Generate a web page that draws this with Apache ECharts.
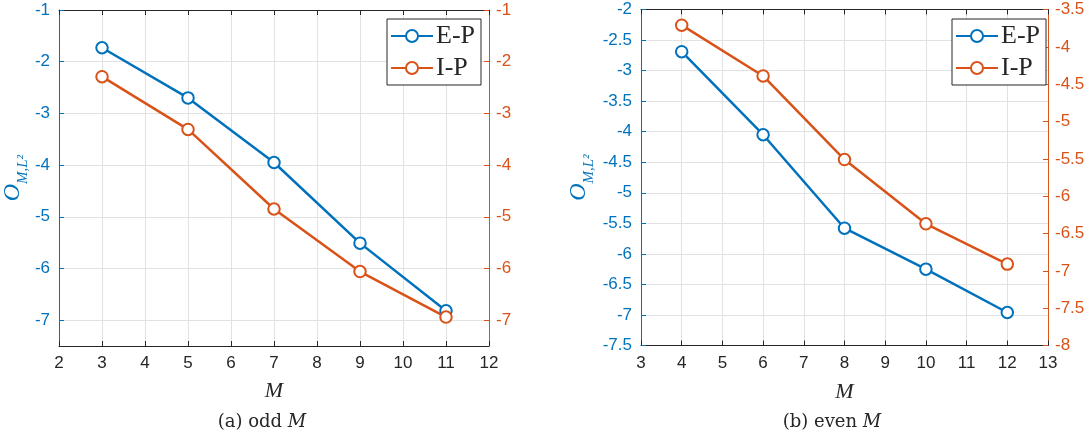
<!DOCTYPE html>
<html>
<head>
<meta charset="utf-8">
<script src="https://cdn.jsdelivr.net/npm/echarts@6/dist/echarts.min.js"></script>
<style>
html,body{margin:0;padding:0;background:#fff;}
#c{width:1088px;height:436px;}
</style>
</head>
<body>
<div id="c"></div>
<script>
// ---- data ----
const mOdd = [3, 5, 7, 9, 11];
const epOdd = [-1.73, -2.70, -3.95, -5.51, -6.82];
const ipOdd = [-2.29, -3.31, -4.85, -6.06, -6.94];
const mEven = [4, 6, 8, 10, 12];
const epEven = [-2.69, -4.05, -5.58, -6.25, -6.96];
const ipEven = [-3.71, -4.39, -5.51, -6.37, -6.91];
const oddYTicks = [-7, -6, -5, -4, -3, -2, -1];
const seriesNames = ['E-P', 'I-P'];
const captions = ['(a) odd ', '(b) even '];

const BLUE = '#0072BD', ORANGE = '#D95319', DARK = '#262626', GRIDC = '#e2e2e2';
const tickFont = {fontFamily: 'Liberation Sans', fontSize: 17};

function pairs(xs, ys) { return xs.map((x, i) => [x, ys[i]]); }

function xBottom(grid, min, max, gap) {
  return {
    type: 'value', gridIndex: grid, position: 'bottom', min: min, max: max, interval: 1,
    axisLine: {show: true, lineStyle: {color: DARK, width: 1}},
    axisTick: {show: true, inside: true, length: 5, lineStyle: {color: DARK}},
    axisLabel: Object.assign({color: DARK, margin: 9}, tickFont),
    splitLine: {show: true, lineStyle: {color: GRIDC, width: 1}},
    name: 'M', nameLocation: 'middle', nameGap: gap,
    nameTextStyle: {fontFamily: 'Liberation Serif', fontStyle: 'italic', fontSize: 22, color: DARK}
  };
}
function xTop(grid, min, max) {
  return {
    type: 'value', gridIndex: grid, position: 'top', min: min, max: max, interval: 1,
    axisLine: {show: true, lineStyle: {color: DARK, width: 1}},
    axisTick: {show: true, inside: true, length: 5, lineStyle: {color: DARK}},
    axisLabel: {show: false}, splitLine: {show: false}
  };
}
const yNameRich = {
  o: {fontFamily: 'Liberation Serif', fontStyle: 'italic', fontSize: 24, color: BLUE, lineHeight: 24, verticalAlign: 'top'},
  s: {fontFamily: 'Liberation Serif', fontStyle: 'italic', fontSize: 15, color: BLUE, lineHeight: 15, verticalAlign: 'bottom'},
  sp: {fontSize: 1, lineHeight: 30}
};
function legendAt(left) {
  return {
    data: seriesNames, left: left, top: 19, orient: 'vertical',
    itemWidth: 42, itemHeight: 15, itemGap: 6,
    padding: [4, 6, 4, 3], backgroundColor: '#fff', borderColor: DARK, borderWidth: 1,
    textStyle: {fontFamily: 'Liberation Serif', fontSize: 26, color: DARK, padding: [0, 0, 0, -2]}
  };
}

const option = {
  animation: false,
  backgroundColor: '#fff',
  grid: [
    {left: 58, top: 10, width: 431, height: 336},
    {left: 641, top: 9.5, width: 407, height: 336}
  ],
  xAxis: [
    xBottom(0, 2, 12, 34), xTop(0, 2, 12),
    xBottom(1, 3, 13, 36), xTop(1, 3, 13)
  ],
  yAxis: [
    {
      type: 'value', gridIndex: 0, position: 'left', min: -7.5, max: -1,
      axisLine: {show: true, lineStyle: {color: BLUE, width: 1}},
      axisTick: {show: true, inside: true, length: 5, customValues: oddYTicks, lineStyle: {color: BLUE}},
      axisLabel: Object.assign({color: BLUE, margin: 9, customValues: oddYTicks}, tickFont),
      splitLine: {show: true, lineStyle: {color: GRIDC, width: 1}},
      name: '{o|O}{s|M,L²}{sp| }', nameLocation: 'middle', nameGap: 27, nameRotate: 90,
      nameTextStyle: {rich: yNameRich}
    },
    {
      type: 'value', gridIndex: 0, position: 'right', min: -7.5, max: -1,
      axisLine: {show: true, lineStyle: {color: ORANGE, width: 1}},
      axisTick: {show: true, inside: true, length: 5, customValues: oddYTicks, lineStyle: {color: ORANGE}},
      axisLabel: Object.assign({color: ORANGE, margin: 7, customValues: oddYTicks}, tickFont),
      splitLine: {show: false}
    },
    {
      type: 'value', gridIndex: 1, position: 'left', min: -7.5, max: -2, interval: 0.5,
      axisLine: {show: true, lineStyle: {color: BLUE, width: 1}},
      axisTick: {show: true, inside: true, length: 5, lineStyle: {color: BLUE}},
      axisLabel: Object.assign({color: BLUE, margin: 9}, tickFont),
      splitLine: {show: true, lineStyle: {color: GRIDC, width: 1}},
      name: '{o|O}{s|M,L²}{sp| }', nameLocation: 'middle', nameGap: 44, nameRotate: 90,
      nameTextStyle: {rich: yNameRich}
    },
    {
      type: 'value', gridIndex: 1, position: 'right', min: -8, max: -3.5, interval: 0.5,
      axisLine: {show: true, lineStyle: {color: ORANGE, width: 1}},
      axisTick: {show: true, inside: true, length: 5, lineStyle: {color: ORANGE}},
      axisLabel: Object.assign({color: ORANGE, margin: 7}, tickFont),
      splitLine: {show: false}
    }
  ],
  legend: [legendAt(387), legendAt(952)],
  series: [
    {name: seriesNames[0], type: 'line', xAxisIndex: 0, yAxisIndex: 0, data: pairs(mOdd, epOdd), color: BLUE},
    {name: seriesNames[1], type: 'line', xAxisIndex: 0, yAxisIndex: 1, data: pairs(mOdd, ipOdd), color: ORANGE},
    {name: seriesNames[0], type: 'line', xAxisIndex: 2, yAxisIndex: 2, data: pairs(mEven, epEven), color: BLUE},
    {name: seriesNames[1], type: 'line', xAxisIndex: 2, yAxisIndex: 3, data: pairs(mEven, ipEven), color: ORANGE}
  ].map(s => Object.assign(s, {
    symbol: 'emptyCircle', symbolSize: 11.5, showSymbol: true,
    lineStyle: {width: 2.5, color: s.color},
    itemStyle: {color: s.color, borderColor: s.color, borderWidth: 2.5}
  })),
  graphic: [
    {type: 'text', x: 262, y: 422, style: {text: '{n|' + captions[0] + '}{i|M}', align: 'center', verticalAlign: 'middle',
      rich: {n: {fontFamily: 'DejaVu Serif', fontSize: 18, fill: DARK}, i: {fontFamily: 'DejaVu Serif', fontStyle: 'italic', fontSize: 18, fill: DARK}}}},
    {type: 'text', x: 832, y: 422, style: {text: '{n|' + captions[1] + '}{i|M}', align: 'center', verticalAlign: 'middle',
      rich: {n: {fontFamily: 'DejaVu Serif', fontSize: 18, fill: DARK}, i: {fontFamily: 'DejaVu Serif', fontStyle: 'italic', fontSize: 18, fill: DARK}}}}
  ]
};
echarts.init(document.getElementById('c'), null, {renderer: 'canvas'}).setOption(option);
</script>
</body>
</html>
